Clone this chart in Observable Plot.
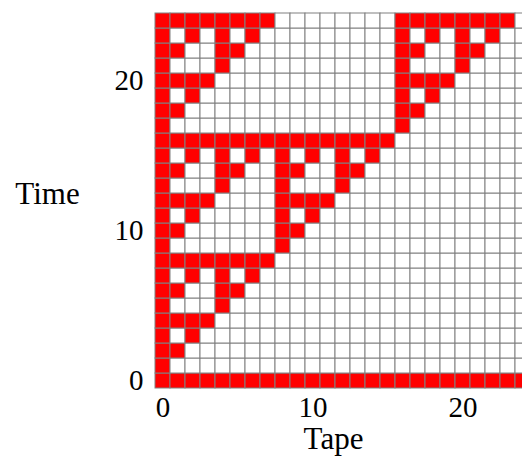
<!DOCTYPE html>
<html>
<head>
<meta charset="utf-8">
<script src="https://cdn.jsdelivr.net/npm/d3@7"></script>
<script src="https://cdn.jsdelivr.net/npm/@observablehq/plot@0.6"></script>
<style>
  html, body { margin: 0; padding: 0; background: white; overflow: hidden; }
</style>
</head>
<body>
<div id="chart"></div>
<script>
// Tape positions and time steps
const tape = [0,1,2,3,4,5,6,7,8,9,10,11,12,13,14,15,16,17,18,19,20,21,22,23,24];
const time = [0,1,2,3,4,5,6,7,8,9,10,11,12,13,14,15,16,17,18,19,20,21,22,23,24];
const tickLabels = [0, 10, 20];

// Red (active) tape cells at each time step
const redRows = [
  [0,1,2,3,4,5,6,7,8,9,10,11,12,13,14,15,16,17,18,19,20,21,22,23,24], // t=0
  [0],
  [0,1],
  [0,2],
  [0,1,2,3],
  [0,4],
  [0,1,4,5],
  [0,2,4,6],
  [0,1,2,3,4,5,6,7],
  [0,8],
  [0,1,8,9],
  [0,2,8,10],
  [0,1,2,3,8,9,10,11],
  [0,4,8,12],
  [0,1,4,5,8,9,12,13],
  [0,2,4,6,8,10,12,14],
  [0,1,2,3,4,5,6,7,8,9,10,11,12,13,14,15],
  [0,16],
  [0,1,16,17],
  [0,2,16,18],
  [0,1,2,3,16,17,18,19],
  [0,4,16,20],
  [0,1,4,5,16,17,20,21],
  [0,2,4,6,16,18,20,22],
  [0,1,2,3,4,5,6,7,16,17,18,19,20,21,22,23]  // t=24
];

const cells = [];
for (const t of time) {
  for (const x of tape) {
    cells.push({x, t, on: redRows[t].includes(x)});
  }
}

const font = "'Liberation Serif', 'DejaVu Serif', serif";

const chart = Plot.plot({
  width: 522,
  height: 461,
  marginLeft: 152,
  marginRight: 0,
  marginTop: 11,
  marginBottom: 72,
  style: {fontFamily: font, fontSize: "29px", color: "black", background: "white"},
  x: {type: "band", domain: tape, range: [152, 532], padding: 0},
  y: {type: "band", domain: time.slice().reverse(), range: [11, 389], padding: 0},
  marks: [
    Plot.cell(cells, {
      x: "x", y: "t",
      fill: d => d.on ? "#ff0000" : "white",
      stroke: "#808080", strokeWidth: 1, inset: 0
    }),
    Plot.axisX({ticks: tickLabels, tickSize: 0, tickPadding: 7, label: null, fontSize: 29, fontFamily: font}),
    Plot.axisY({ticks: tickLabels, tickSize: 0, tickPadding: 9, label: null, fontSize: 29, fontFamily: font}),
    Plot.text(["Tape"], {frameAnchor: "bottom", lineAnchor: "middle", dx: -4, dy: 50, fontSize: 31, fontFamily: font, fill: "black"}),
    Plot.text(["Time"], {frameAnchor: "left", lineAnchor: "middle", dx: -105, dy: -6, textAnchor: "middle", fontSize: 31, fontFamily: font, fill: "black"})
  ]
});
document.getElementById("chart").appendChild(chart);
</script>
</body>
</html>
